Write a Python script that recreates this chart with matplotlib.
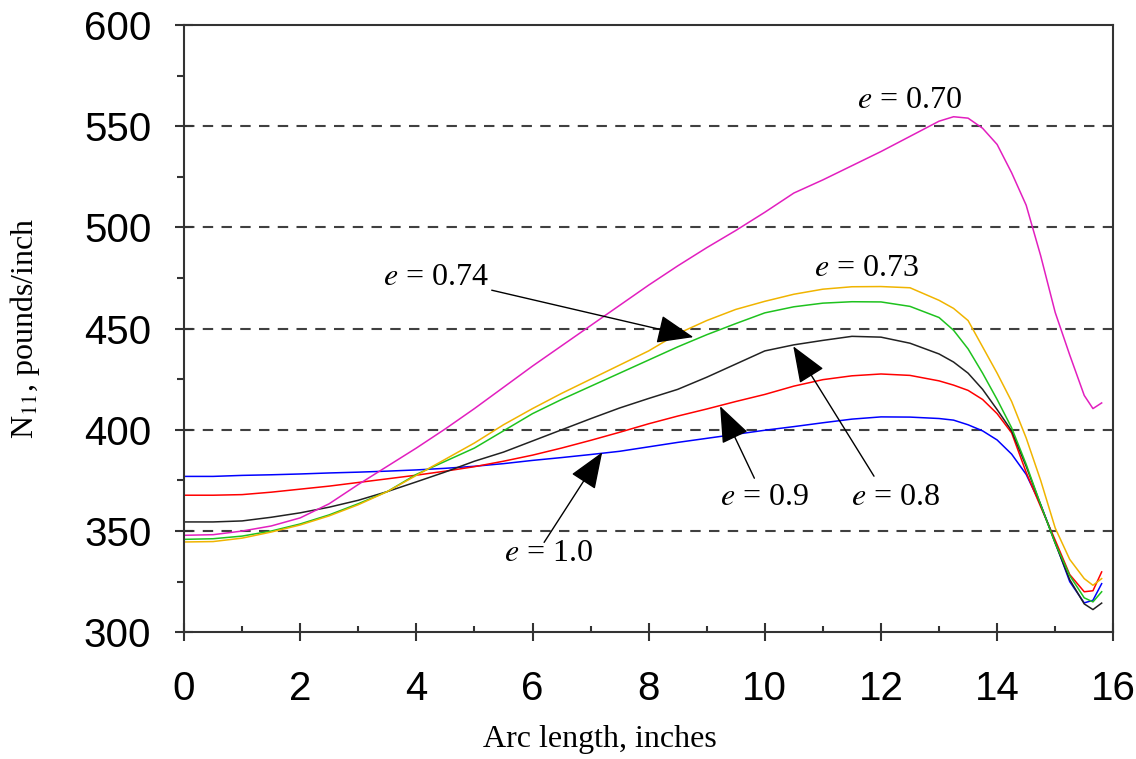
import numpy as np
import matplotlib.pyplot as plt

plt.rcParams['mathtext.fontset'] = 'stix'

# arc length positions (inches)
s = [0, 0.5, 1, 1.5, 2, 2.5, 3, 3.5, 4, 4.5, 5, 5.5, 6, 6.5, 7, 7.5, 8, 8.5, 9, 9.5,
     10, 10.5, 11, 11.5, 12, 12.5, 13, 13.25, 13.5, 13.75, 14, 14.25, 14.5, 14.75,
     15, 15.25, 15.5, 15.65, 15.8]

# N11 (pounds/inch) for each eccentricity
n_e100 = [377, 377, 377.5, 377.8, 378.2, 378.7, 379.1, 379.6, 380.2, 381, 382, 383.3,
          384.9, 386.3, 387.8, 389.4, 391.6, 393.8, 395.8, 397.8, 399.8, 401.6, 403.5,
          405.3, 406.4, 406.3, 405.6, 404.8, 402.5, 399.5, 395, 388, 378, 363,
          344.5, 325, 314.5, 315.8, 324]
n_e090 = [367.7, 367.7, 368, 369.2, 370.7, 372.2, 374, 375.8, 377.6, 379.6, 381.8, 384.5,
          387.5, 391, 394.8, 398.8, 403, 406.8, 410.3, 414, 417.5, 421.6, 424.8,
          426.7, 427.6, 426.9, 424.2, 422.1, 419.5, 415, 408, 398.5, 379, 362,
          345.5, 328.5, 320, 320.5, 329.8]
n_e080 = [354.5, 354.5, 355, 356.8, 359, 361.8, 365.2, 369.5, 374.3, 379.2, 384.5, 389,
          394.5, 400, 405.5, 410.8, 415.5, 420, 426, 432.5, 439, 442, 444.2,
          446.2, 445.8, 442.8, 437.5, 433.5, 428, 420, 410, 399.5, 382, 363,
          344, 326, 314, 311.2, 314.4]
n_e074 = [345.9, 346.2, 347.5, 350, 353.5, 358, 363.5, 369.5, 378, 384.5, 391, 399.5,
          408, 415, 421.5, 428, 434.5, 441, 447, 452.5, 457.8, 460.8, 462.6,
          463.3, 463.2, 461, 455.5, 449.2, 440, 428, 415, 401, 383, 363,
          344, 328, 317, 315, 320]
n_e073 = [344.6, 344.8, 346.5, 349.5, 353, 357.5, 363, 369.5, 377.5, 385.5, 393.5, 402.5,
          410.5, 418, 425, 432, 439, 447.5, 454, 459.5, 463.5, 467, 469.5,
          470.7, 470.8, 470.2, 464, 460, 454, 441, 428, 414, 396, 375,
          351.5, 336, 326.5, 323.2, 326.5]
n_e070 = [347.9, 348.2, 350, 352.5, 356.5, 363.5, 373, 382, 391, 400.5, 410.5, 421,
          431.5, 441.5, 451.5, 461.5, 471.5, 481, 490, 498.5, 507.5, 517, 523.5,
          530.5, 537.5, 545, 552.5, 554.7, 554, 549, 541, 527, 511, 486,
          458, 437, 417, 410.5, 413.3]

series = [(n_e100, '#0000ff'), (n_e090, '#ff0000'), (n_e080, '#222222'),
          (n_e074, '#1ec21e'), (n_e073, '#f0b400'), (n_e070, '#e21fbf')]

fig = plt.figure(figsize=(11.36, 7.59), dpi=100)
ax = fig.add_axes([0.162, 0.167, 0.818, 0.8])

for vals, col in series:
    ax.plot(s, vals, color=col, lw=1.1)

ax.set_xlim(0, 16)
ax.set_ylim(300, 600)
ax.set_xticks(np.arange(0, 17, 2))
ax.set_xticks(np.arange(1, 16, 2), minor=True)
ax.set_yticks(np.arange(300, 601, 50))
ax.set_yticks(np.arange(325, 600, 50), minor=True)

for yv in [350, 400, 450, 500, 550]:
    ax.axhline(yv, color='#404040', lw=1.5, ls=(0, (5, 4)), zorder=0)

for sp in ax.spines.values():
    sp.set_color('#333333')
    sp.set_linewidth(1.5)

ax.tick_params(which='major', direction='inout', length=13, width=1.5, color='#333333',
               labelsize=29)
ax.tick_params(axis='x', which='major', pad=21)
ax.tick_params(axis='y', which='major', pad=17)
ax.tick_params(axis='x', which='minor', direction='in', length=4, width=1.5, color='#333333')
ax.tick_params(axis='y', which='minor', direction='out', length=5, width=1.5, color='#333333')
for lab in ax.get_xticklabels() + ax.get_yticklabels():
    lab.set_family('Liberation Sans')

ax.set_xlabel('Arc length, inches', family='Liberation Serif', fontsize=23)
ax.set_ylabel('N$_{11}$, pounds/inch', family='Liberation Serif', fontsize=23)
ax.xaxis.set_label_coords(0.448, -0.153)
ax.yaxis.set_label_coords(-0.153, 0.5)

txt = dict(family='Liberation Serif', fontsize=23, va='center')
arr = dict(arrowstyle='-|>,head_length=1.15,head_width=0.45', color='black', lw=1,
           mutation_scale=20, shrinkA=0, shrinkB=0)

ax.annotate('$e$ = 0.74', xy=(8.77, 445.8), xytext=(5.25, 475.4), ha='right',
            arrowprops=arr, **txt)
ax.text(11.75, 479.9, '$e$ = 0.73', ha='center', **txt)
ax.text(12.5, 562.9, '$e$ = 0.70', ha='center', **txt)
ax.annotate('', xy=(10.49, 441.3), xytext=(11.88, 377.1), arrowprops=arr)
ax.text(12.25, 366.7, '$e$ = 0.8', ha='center', **txt)
ax.annotate('', xy=(9.23, 411.7), xytext=(9.82, 376.1), arrowprops=arr)
ax.text(10.0, 366.7, '$e$ = 0.9', ha='center', **txt)
ax.annotate('', xy=(7.2, 388.9), xytext=(6.2, 344.4), arrowprops=arr)
ax.text(6.27, 339, '$e$ = 1.0', ha='center', **txt)

fig.savefig('out.png', dpi=100)
